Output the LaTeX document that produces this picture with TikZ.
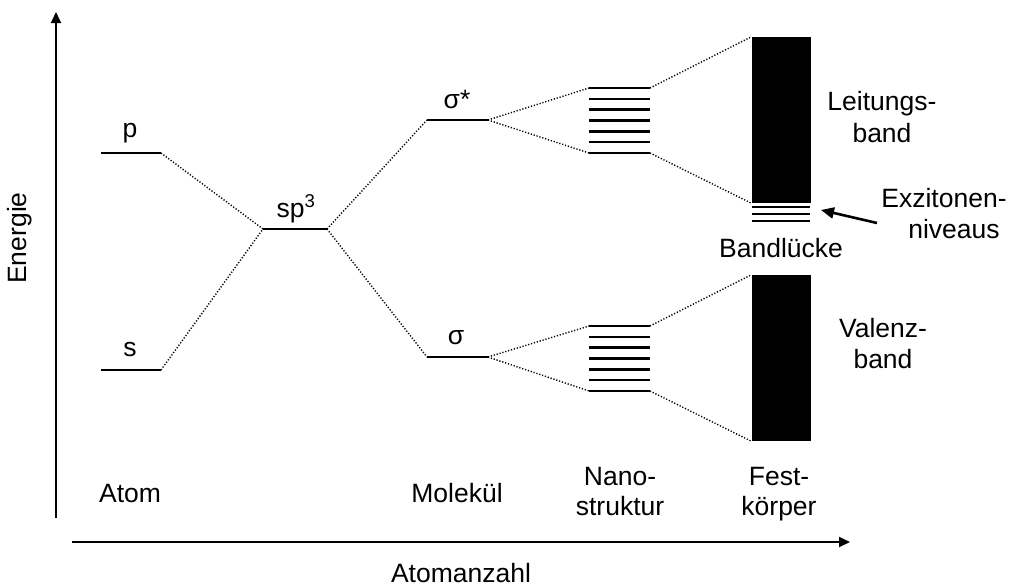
\documentclass[tikz,border=0pt]{standalone}
\usepackage{fontspec}
\setmainfont{Liberation Sans}
\usetikzlibrary{arrows.meta}
\begin{document}
\begin{tikzpicture}[x=1pt,y=-1pt,
  level/.style={line width=2.5pt},
  conn/.style={line width=1.4pt, dash pattern=on 1.2pt off 1.8pt},
  axis/.style={line width=1.9pt, -{Triangle[length=11pt,width=10pt]}},
  lbl/.style={anchor=base, inner sep=0pt, font=\fontsize{26.5}{31}\selectfont},
  band/.style={fill=black, draw=none}]
\useasboundingbox (0,0) rectangle (1013,587);
% axes
\coordinate (ax0) at (56,518);
\coordinate (ax1) at (56,12);
\coordinate (bx0) at (72,542);
\coordinate (bx1) at (850,542);
\draw[axis] (ax0) -- (ax1);
\draw[axis] (bx0) -- (bx1);
% levels
\coordinate (pL) at (101,153); \coordinate (pR) at (161,153);
\coordinate (sL) at (101,370); \coordinate (sR) at (161,370);
\coordinate (hL) at (263,229); \coordinate (hR) at (327,229);
\coordinate (asL) at (427,120); \coordinate (asR) at (488,120);
\coordinate (bL) at (427,357); \coordinate (bR) at (488,357);
\draw[level] (pL) -- (pR);
\draw[level] (sL) -- (sR);
\draw[level] (hL) -- (hR);
\draw[level] (asL) -- (asR);
\draw[level] (bL) -- (bR);
% nanostructure levels
\foreach \i in {0,...,6} {
  \draw[level] (589,{88+\i*10.8333}) -- (650,{88+\i*10.8333});
  \draw[level] (589,{326+\i*10.8333}) -- (650,{326+\i*10.8333});
}
\coordinate (nuTL) at (589,88);  \coordinate (nuTR) at (650,88);
\coordinate (nuBL) at (589,153); \coordinate (nuBR) at (650,153);
\coordinate (nlTL) at (589,326); \coordinate (nlTR) at (650,326);
\coordinate (nlBL) at (589,391); \coordinate (nlBR) at (650,391);
% bands
\node[band, minimum width=59pt, minimum height=166pt, inner sep=0pt] (cb) at (781,120) {};
\node[band, minimum width=59pt, minimum height=166pt, inner sep=0pt] (vb) at (781,358) {};
\draw[level] (752,207) -- (810,207);
\draw[level] (752,214) -- (810,214);
\draw[level] (752,221) -- (810,221);
% dotted connectors
\draw[conn] (pR) -- (hL);
\draw[conn] (sR) -- (hL);
\draw[conn] (hR) -- (asL);
\draw[conn] (hR) -- (bL);
\draw[conn] (asR) -- (nuTL);
\draw[conn] (asR) -- (nuBL);
\draw[conn] (bR) -- (nlTL);
\draw[conn] (bR) -- (nlBL);
\draw[conn] (nuTR) -- (cb.north west);
\draw[conn] (nuBR) -- (cb.south west);
\draw[conn] (nlTR) -- (vb.north west);
\draw[conn] (nlBR) -- (vb.south west);
% labels
\node[lbl] (tp) at (130,137) {p};
\node[lbl] (ts) at (130,356) {s};
\node[lbl] (th) at (296,217) {sp\textsuperscript{3}};
\node[lbl] (tas) at (457,108) {σ*};
\node[lbl] (tb) at (456,344) {σ};
\node[lbl] (tatom) at (130,502) {Atom};
\node[lbl] (tmol) at (457,502) {Molekül};
\node[lbl] (tn1) at (620,485) {Nano-};
\node[lbl] (tn2) at (620,515) {struktur};
\node[lbl] (tf1) at (779,485) {Fest-};
\node[lbl] (tf2) at (779,515) {körper};
\node[lbl] (tl1) at (882,110) {Leitungs-};
\node[lbl] (tl2) at (882,142) {band};
\node[lbl] (tv1) at (883,337) {Valenz-};
\node[lbl] (tv2) at (883,368) {band};
\node[lbl] (te1) at (944,207) {Exzitonen-};
\node[lbl] (te2) at (954,238) {niveaus};
\node[lbl] (tgap) at (781,257) {Bandlücke};
\node[lbl] (tx) at (461,582) {Atomanzahl};
\node[lbl, rotate=90] (ty) at (27,238) {Energie};
% exciton arrow
\coordinate (exT) at (877,223);
\coordinate (exH) at (821,210);
\draw[line width=2.6pt, -{Triangle[length=13pt,width=11pt]}] (exT) -- (exH);
\end{tikzpicture}
\end{document}
